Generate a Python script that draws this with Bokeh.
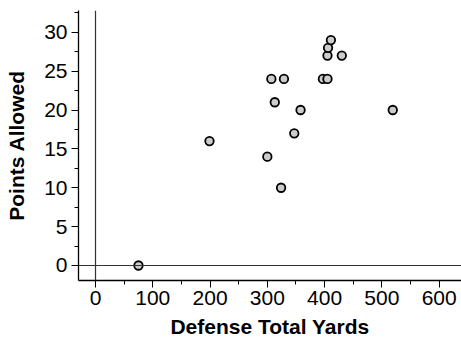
from bokeh.plotting import figure
from bokeh.models import Span, SingleIntervalTicker, Range1d
from bokeh.embed import file_html
from bokeh.resources import INLINE

yards = [75, 199, 300, 307, 313, 324, 329, 347, 358, 397, 405, 405, 406, 411, 430, 519]
points = [0, 16, 14, 24, 21, 10, 24, 17, 20, 24, 24, 27, 28, 29, 27, 20]

FONT = "Liberation Sans"

p = figure(width=461, height=342, output_backend="svg", toolbar_location=None,
           x_range=Range1d(-29.7, 639), y_range=Range1d(-1.93, 32.8),
           min_border_left=78, min_border_right=0, min_border_top=10, min_border_bottom=62)
p.outline_line_color = None
p.xgrid.visible = False
p.ygrid.visible = False
p.background_fill_color = "white"
p.border_fill_color = "white"

p.add_layout(Span(location=0, dimension="height", line_color="#333333", line_width=1.2))
p.add_layout(Span(location=0, dimension="width", line_color="#333333", line_width=1.2))

p.scatter(yards, points, size=8.5, fill_color="#cccccc", line_color="black", line_width=1.8)

p.xaxis.ticker = SingleIntervalTicker(interval=100, num_minor_ticks=2)
p.yaxis.ticker = SingleIntervalTicker(interval=5, num_minor_ticks=2)
p.xaxis.axis_label = "Defense Total Yards"
p.yaxis.axis_label = "Points Allowed"
for ax in (p.xaxis[0], p.yaxis[0]):
    ax.axis_line_color = "black"
    ax.axis_line_width = 1.3
    ax.major_tick_line_color = "black"
    ax.minor_tick_line_color = "black"
    ax.major_tick_out = 7
    ax.major_tick_in = 0
    ax.minor_tick_out = 4
    ax.minor_tick_in = 0
    ax.major_label_text_font = FONT
    ax.major_label_text_font_size = "21px"
    ax.major_label_text_color = "black"
    ax.axis_label_text_font = FONT
    ax.axis_label_text_font_size = "21px"
    ax.axis_label_text_font_style = "bold"
    ax.axis_label_text_color = "black"
p.xaxis.major_label_standoff = 3
p.yaxis.major_label_standoff = 4
p.xaxis.axis_label_standoff = 7
p.yaxis.axis_label_standoff = 13

open("out.html", "w").write(file_html(p, INLINE))
